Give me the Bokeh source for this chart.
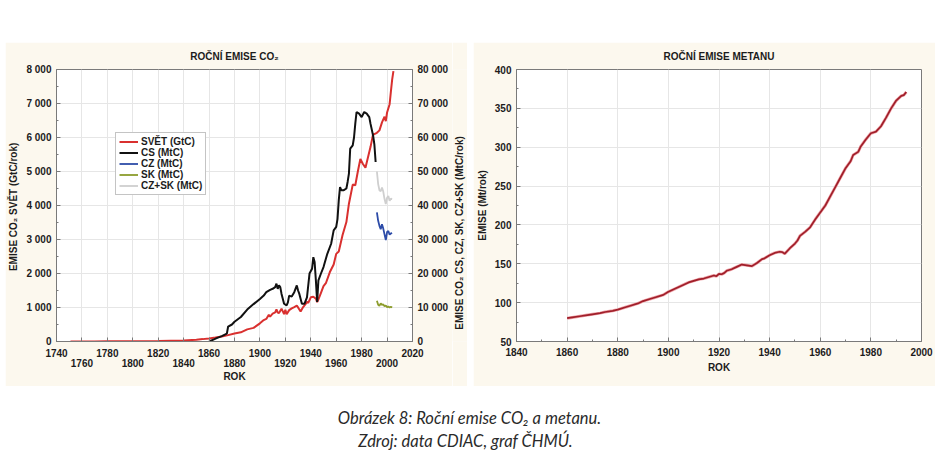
import math
from bokeh.plotting import figure
from bokeh.models import (Range1d, LinearAxis, FixedTicker, Legend, LegendItem,
                          Spacer, Grid, ColumnDataSource)
from bokeh.layouts import column, row
from bokeh.embed import file_html
from bokeh.resources import INLINE
from bokeh.core.properties import value

# ---------------- data ----------------
svet_years = [1751, 1760, 1770, 1780, 1790, 1800, 1810, 1820, 1830, 1840, 1850, 1855,
              1860, 1865, 1870, 1875, 1880, 1885, 1890, 1895, 1900, 1903, 1905, 1907,
              1908, 1910, 1912, 1913, 1914, 1915, 1917, 1919, 1920, 1921, 1923, 1925,
              1927, 1929, 1930, 1932, 1934, 1936, 1937, 1938, 1940, 1942, 1944, 1945,
              1946, 1948, 1950, 1952, 1955, 1958, 1960, 1962, 1965, 1968, 1970, 1973,
              1975, 1977, 1979, 1981, 1983, 1985, 1987, 1989, 1990, 1992, 1994, 1996,
              1998, 1999, 2000, 2002, 2003, 2004, 2005]
svet_vals = [3, 3, 3, 5, 7, 8, 10, 14, 24, 33, 54, 70,
             91, 115, 147, 188, 236, 271, 356, 400, 534, 630, 663, 785,
             734, 819, 857, 943, 850, 836, 966, 806, 932, 803, 923, 975,
             1013, 1053, 1003, 881, 1013, 1105, 1167, 1134, 1299, 1317, 1259, 1161,
             1237, 1433, 1630, 1727, 2042, 2266, 2577, 2649, 3130, 3514, 4053, 4615,
             4596, 5000, 5369, 5222, 5113, 5420, 5725, 6098, 6099, 6139, 6209, 6446,
             6612, 6480, 6735, 6980, 7350, 7700, 7950]

cs_years = [1860, 1863, 1866, 1870, 1874, 1875, 1878, 1880, 1885, 1890, 1895, 1900,
            1903, 1905, 1908, 1910, 1912, 1913, 1914, 1915, 1916, 1917, 1919, 1921,
            1922, 1923, 1925, 1927, 1929, 1930, 1931, 1933, 1935, 1937, 1939, 1941,
            1942, 1943, 1944, 1945, 1946, 1948, 1950, 1953, 1956, 1958, 1960, 1961,
            1962, 1963, 1964, 1966, 1968, 1969, 1970, 1971, 1973, 1974, 1975, 1976,
            1978, 1980, 1982, 1984, 1986, 1987, 1989, 1990, 1991]
cs_vals = [0, 500, 1000, 1600, 2300, 4400, 5000, 5800, 7200, 9400, 11000, 12500,
           13500, 14500, 15200, 15500, 16000, 17000, 15500, 16500, 16000, 14000, 11100, 10600,
           11500, 13500, 13200, 14500, 16500, 15000, 14000, 11100, 11100, 13000, 20000, 21400,
           24800, 23400, 18000, 11600, 18000, 20000, 21900, 25800, 28750, 32700, 33700, 36000,
           41500, 45400, 44500, 44500, 45000, 47000, 49400, 56700, 57700, 60000, 64100, 67500,
           67000, 66000, 67500, 67000, 66000, 64000, 60600, 58000, 52800]

cz_years = [1992, 1993, 1994, 1995, 1996, 1997, 1998, 1999, 2000, 2001, 2002, 2003, 2004]
cz_vals = [38000, 35500, 34000, 33000, 34500, 33200, 31500, 29800, 32200, 32500, 31400, 31800, 31900]

sk_years = [1992, 1993, 1994, 1995, 1996, 1997, 1998, 1999, 2000, 2001, 2002, 2003, 2004]
sk_vals = [12000, 10800, 10500, 11200, 10800, 10900, 10400, 10600, 10100, 10300, 10000, 10200, 10000]

czsk_years = [1992, 1993, 1994, 1995, 1996, 1997, 1998, 1999, 2000, 2001, 2002, 2003, 2004]
czsk_vals = [50000, 46300, 44500, 44200, 45300, 44100, 41900, 40400, 42300, 42800, 41400, 42000, 41900]

ch4_years = [1860, 1862, 1865, 1868, 1870, 1873, 1875, 1878, 1880, 1883, 1885, 1888, 1890,
             1893, 1895, 1898, 1900, 1903, 1905, 1908, 1910, 1912, 1914, 1916, 1918, 1919,
             1920, 1921, 1922, 1923, 1925, 1927, 1929, 1931, 1933, 1935, 1937, 1938, 1940,
             1942, 1944, 1945, 1946, 1948, 1950, 1951, 1952, 1954, 1956, 1958, 1960, 1962,
             1964, 1966, 1968, 1970, 1972, 1973, 1975, 1976, 1978, 1980, 1981, 1982, 1984,
             1986, 1988, 1990, 1992, 1993, 1994]
ch4_vals = [80, 81, 82.5, 84, 85, 86.5, 88, 89.5, 91, 94, 96, 99, 102,
            105, 107, 110, 114, 118.5, 121.5, 126, 128, 130, 131, 133, 135, 134,
            137, 136.5, 138, 141, 143, 146, 149, 148, 147, 151, 156, 157, 161,
            164, 165.5, 165, 163, 170, 176, 180, 186, 191, 197, 207, 216, 225,
            237, 249, 261, 273, 282, 290, 294, 301, 310, 318, 319, 320, 327,
            338, 350, 360, 366, 367, 371]

x1_row1 = list(range(1740, 2021, 40))
x1_row2 = list(range(1760, 2001, 40))
y1_ticks = list(range(0, 8001, 1000))
y1r_ticks = list(range(0, 80001, 10000))
x2_ticks = list(range(1840, 2001, 20))
y2_ticks = list(range(50, 401, 50))

right_axis_title = ["EMISE CO₂  CS, CZ, SK, CZ+SK (MtC/rok)"]

# ---------------- style ----------------
PANEL = "#fcf8ee"
FONT = "Liberation Sans"
TXT = "#1c1c1c"
FRAME = "#7a7a7a"
GRID = "#e6e6e6"


def fmt(v):
    return f"{v:,}".replace(",", " ")


def style_axis(ax):
    ax.major_label_text_font = FONT
    ax.major_label_text_font_size = "10px"
    ax.major_label_text_font_style = "bold"
    ax.major_label_text_color = TXT
    ax.axis_label_text_font = FONT
    ax.axis_label_text_font_size = "10px"
    ax.axis_label_text_font_style = "bold"
    ax.axis_label_text_color = TXT
    ax.axis_line_color = FRAME
    ax.major_tick_line_color = FRAME
    ax.minor_tick_line_color = FRAME
    ax.major_tick_in = 4
    ax.major_tick_out = 0
    ax.minor_tick_in = 2
    ax.minor_tick_out = 0


def base_fig(w, h, xr, yr, mbl, mbr, mbt, mbb, title):
    p = figure(width=w, height=h, output_backend="svg", toolbar_location=None,
               x_range=xr, y_range=yr, x_axis_type=None, y_axis_type=None,
               min_border_left=mbl, min_border_right=mbr,
               min_border_top=mbt, min_border_bottom=mbb,
               background_fill_color="white", border_fill_color=PANEL,
               outline_line_color=FRAME, title=title)
    p.title.align = "center"
    p.title.vertical_align = "middle"
    p.title.text_font = FONT
    p.title.text_font_size = "10px"
    p.title.text_font_style = "bold"
    p.title.text_color = TXT
    p.title.standoff = 14
    return p


# ---------------- CO2 panel ----------------
p1 = base_fig(447, 344, Range1d(1740, 2020), Range1d(0, 8000), 49, 40, 27, 45, "ROČNÍ EMISE CO₂")
p1.extra_y_ranges = {"r": Range1d(0, 80000)}

p1.add_layout(Grid(dimension=0, ticker=FixedTicker(ticks=sorted(x1_row1 + x1_row2)),
                   grid_line_color=GRID), "center")
p1.add_layout(Grid(dimension=1, ticker=FixedTicker(ticks=y1_ticks),
                   grid_line_color=GRID), "center")

yl = LinearAxis(ticker=FixedTicker(ticks=y1_ticks, minor_ticks=list(range(500, 8000, 1000))),
                major_label_overrides={v: fmt(v) for v in y1_ticks},
                axis_label="EMISE CO₂  SVĚT (GtC/rok)")
style_axis(yl)
yl.major_label_standoff = 5
yl.axis_label_standoff = 4
p1.add_layout(yl, "left")

yr_ax = LinearAxis(y_range_name="r",
                   ticker=FixedTicker(ticks=y1r_ticks, minor_ticks=list(range(5000, 80000, 10000))),
                   major_label_overrides={v: fmt(v) for v in y1r_ticks})
style_axis(yr_ax)
yr_ax.major_label_standoff = 5
p1.add_layout(yr_ax, "right")

xb1 = LinearAxis(ticker=FixedTicker(ticks=x1_row1, minor_ticks=x1_row2))
style_axis(xb1)
xb1.minor_tick_in = 4
xb1.major_label_standoff = 7
p1.add_layout(xb1, "below")

xb2 = LinearAxis(ticker=FixedTicker(ticks=x1_row2), axis_label="ROK")
style_axis(xb2)
xb2.axis_line_color = None
xb2.major_tick_line_color = None
xb2.minor_tick_line_color = None
xb2.major_label_standoff = -1
xb2.axis_label_standoff = 1
p1.add_layout(xb2, "below")

r_svet = p1.line(svet_years, svet_vals, line_color="#d9302f", line_width=2)
r_cs = p1.line(cs_years, cs_vals, line_color="#111111", line_width=2, y_range_name="r")
r_cz = p1.line(cz_years, cz_vals, line_color="#2d4ca8", line_width=1.8, y_range_name="r")
r_sk = p1.line(sk_years, sk_vals, line_color="#8c9c2c", line_width=1.8, y_range_name="r")
r_czsk = p1.line(czsk_years, czsk_vals, line_color="#cfcfcf", line_width=1.8, y_range_name="r")

legend = Legend(items=[LegendItem(label="SVĚT (GtC)", renderers=[r_svet]),
                       LegendItem(label="CS (MtC)", renderers=[r_cs]),
                       LegendItem(label="CZ (MtC)", renderers=[r_cz]),
                       LegendItem(label="SK (MtC)", renderers=[r_sk]),
                       LegendItem(label="CZ+SK (MtC)", renderers=[r_czsk])],
                location=(59, 146))
legend.label_text_font = FONT
legend.label_text_font_size = "10px"
legend.label_text_font_style = "bold"
legend.label_text_color = TXT
legend.border_line_color = "#8a8a8a"
legend.background_fill_color = "white"
legend.background_fill_alpha = 1
legend.glyph_width = 19
legend.glyph_height = 11
legend.label_height = 11
legend.label_standoff = 3
legend.spacing = 0
legend.padding = 3
legend.margin = 0
p1.add_layout(legend, "center")

# narrow strip carrying the right-axis title, read bottom-to-top
pt = figure(width=15, height=344, output_backend="svg", toolbar_location=None,
            x_range=Range1d(0, 15), y_range=Range1d(0, 344),
            x_axis_type=None, y_axis_type=None, min_border=0,
            outline_line_color=None, background_fill_color=PANEL,
            border_fill_color=PANEL)
pt.grid.visible = False
pt.text(x=[7], y=[139], text=right_axis_title, angle=math.pi / 2,
        text_align="center", text_baseline="middle", text_font=value(FONT),
        text_font_size="10px", text_font_style="bold", text_color=TXT)

# ---------------- CH4 panel ----------------
p2 = base_fig(462, 344, Range1d(1840, 2000), Range1d(50, 400), 43, 14, 26, 33, "ROČNÍ EMISE METANU")
p2.add_layout(Grid(dimension=0, ticker=FixedTicker(ticks=x2_ticks), grid_line_color=GRID), "center")
p2.add_layout(Grid(dimension=1, ticker=FixedTicker(ticks=y2_ticks), grid_line_color=GRID), "center")

y2 = LinearAxis(ticker=FixedTicker(ticks=y2_ticks, minor_ticks=list(range(75, 400, 50))),
                axis_label="EMISE (Mt/rok)")
style_axis(y2)
y2.major_label_standoff = 5
y2.axis_label_standoff = 4
p2.add_layout(y2, "left")

x2 = LinearAxis(ticker=FixedTicker(ticks=x2_ticks, minor_ticks=list(range(1850, 2000, 20))),
                axis_label="ROK")
style_axis(x2)
x2.major_label_standoff = 6
x2.axis_label_standoff = 3
p2.add_layout(x2, "below")

p2.line(ch4_years, ch4_vals, line_color="#eea3a8", line_width=3)
p2.line(ch4_years, ch4_vals, line_color="#a01f2a", line_width=1.7)

# ---------------- caption ----------------
cap_lines = ["Obrázek 8: Roční emise CO₂ a metanu.", "Zdroj: data CDIAC, graf ČHMÚ."]
p3 = figure(width=940, height=74, output_backend="svg", toolbar_location=None,
            x_range=Range1d(0, 940), y_range=Range1d(0, 74),
            x_axis_type=None, y_axis_type=None, min_border=0,
            outline_line_color=None, background_fill_color="white",
            border_fill_color="white")
p3.grid.visible = False
cap_src = ColumnDataSource(dict(x=[469, 465], y=[43, 20], t=cap_lines))
p3.text(x="x", y="y", text="t", source=cap_src, text_align="center",
        text_baseline="middle", text_font=value("Lato"), text_font_size="16.5px",
        text_font_style="italic", text_color="#2a2a2a")

layout = column(Spacer(height=42, width=940),
                row(Spacer(width=5, height=344), p1, pt, Spacer(width=6, height=344), p2),
                p3)

open("out.html", "w").write(file_html(layout, INLINE))
